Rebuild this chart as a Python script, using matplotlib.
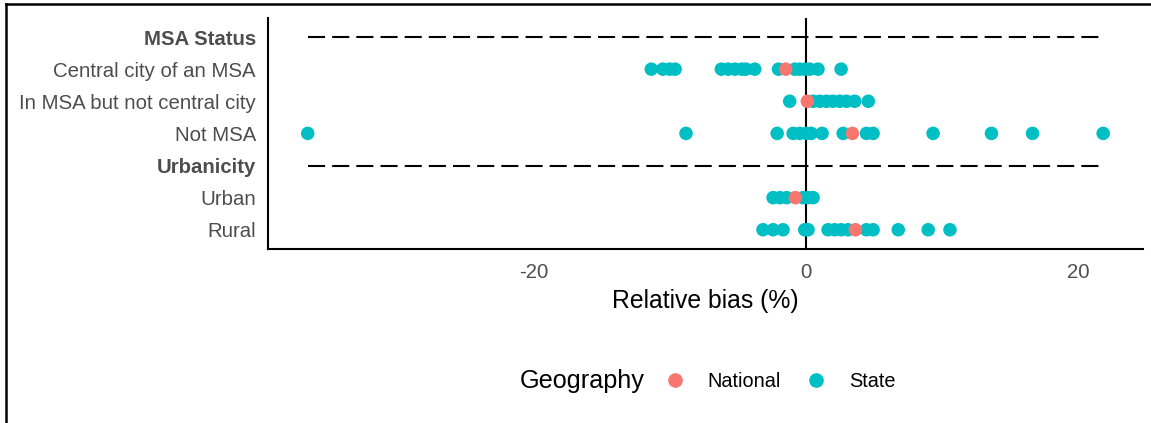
import matplotlib
matplotlib.use("Agg")
from matplotlib import pyplot as plt
from matplotlib.lines import Line2D

plt.rcParams['font.family'] = ['Liberation Sans', 'DejaVu Sans']

# rows from top to bottom; headers are drawn bold with a dashed guide line
rows = ["MSA Status", "Central city of an MSA", "In MSA but not central city",
        "Not MSA", "Urbanicity", "Urban", "Rural"]
headers = ["MSA Status", "Urbanicity"]

# relative bias (%) of state estimates
state_bias = {
    "Central city of an MSA": [-11.35, -10.5, -10.0, -9.6, -6.2, -5.7, -5.2, -4.7, -4.4,
                               -3.75, -2.0, -0.8, -0.44, -0.07, 0.3, 0.9, 2.6],
    "In MSA but not central city": [-1.18, 0.54, 1.03, 1.52, 2.0, 2.5, 3.0, 3.6, 4.6],
    "Not MSA": [-36.6, -8.8, -2.1, -0.93, -0.44, 0.05, 0.4, 1.2, 2.75, 4.46, 4.95,
                9.36, 13.65, 16.67, 21.86],
    "Urban": [-2.4, -1.9, -1.4, -0.2, 0.17, 0.54],
    "Rural": [-3.14, -2.4, -1.67, -0.07, 0.17, 1.64, 2.13, 2.6, 3.1, 4.46, 4.95,
              6.8, 9.0, 10.6],
}

# relative bias (%) of the national estimate
national_bias = {
    "Central city of an MSA": -1.47,
    "In MSA but not central city": 0.12,
    "Not MSA": 3.43,
    "Urban": -0.76,
    "Rural": 3.65,
}

xticks = [-20, 0, 20]
state_col = "#00BFC4"
national_col = "#F8766D"

fig = plt.figure(figsize=(11.51, 4.23), dpi=100)
ax = fig.add_axes([0.2328, 0.4113, 0.7602, 0.5467])

ypos = {name: len(rows) - 1 - i for i, name in enumerate(rows)}

all_vals = [v for vals in state_bias.values() for v in vals]
xmin, xmax = min(all_vals), max(all_vals)

for name in headers:
    ax.plot([xmin, xmax], [ypos[name], ypos[name]], color="black", lw=1.5,
            linestyle=(0, (8.2, 3.4)), solid_capstyle="butt", dash_capstyle="butt")

ax.axvline(0, color="black", lw=1.5, zorder=1)

for name, vals in state_bias.items():
    ax.scatter(vals, [ypos[name]] * len(vals), s=95, color=state_col,
               edgecolors="none", zorder=3)
for name, val in national_bias.items():
    ax.scatter([val], [ypos[name]], s=95, color=national_col,
               edgecolors="none", zorder=4)

span = xmax - xmin
ax.set_xlim(xmin - 0.05 * span, xmax + 0.05 * span)
ax.set_ylim(-0.6, len(rows) - 1 + 0.6)

ax.set_yticks([ypos[n] for n in rows])
ax.set_yticklabels(rows, fontsize=14.7, color="#4d4d4d")
for lab in ax.get_yticklabels():
    if lab.get_text() in headers:
        lab.set_fontweight("bold")
ax.set_xticks(xticks)
ax.set_xticklabels([str(t) for t in xticks], fontsize=14.6, color="#4d4d4d")
ax.tick_params(axis="y", length=0, pad=8.6)
ax.tick_params(axis="x", length=0, pad=10)
ax.set_xlabel("Relative bias (%)", fontsize=17.8, color="black", labelpad=5)

for side in ["top", "right"]:
    ax.spines[side].set_visible(False)
for side in ["left", "bottom"]:
    ax.spines[side].set_linewidth(1.5)
    ax.spines[side].set_color("black")

# legend with title on the left
fig.text(520 / 1151, 1 - 381 / 423, "Geography", fontsize=18.2, va="center", ha="left")
handles = [Line2D([], [], marker="o", ls="none", color=national_col, markersize=9.5),
           Line2D([], [], marker="o", ls="none", color=state_col, markersize=9.5)]
fig.legend(handles, ["National", "State"], ncol=2, frameon=False, fontsize=14.3,
           loc="center left", bbox_to_anchor=(647 / 1151, 1 - 381 / 423),
           handletextpad=1.15, columnspacing=1.26, handlelength=1.0)

# frame lines on the top and left edge of the figure
fig.add_artist(Line2D([5.5 / 1151, 5.5 / 1151], [0, 1 - 4.5 / 423], color="black", lw=1.8))
fig.add_artist(Line2D([5.5 / 1151, 1], [1 - 4.5 / 423, 1 - 4.5 / 423], color="black", lw=1.8))

fig.savefig("out.png", dpi=100, facecolor="white")
